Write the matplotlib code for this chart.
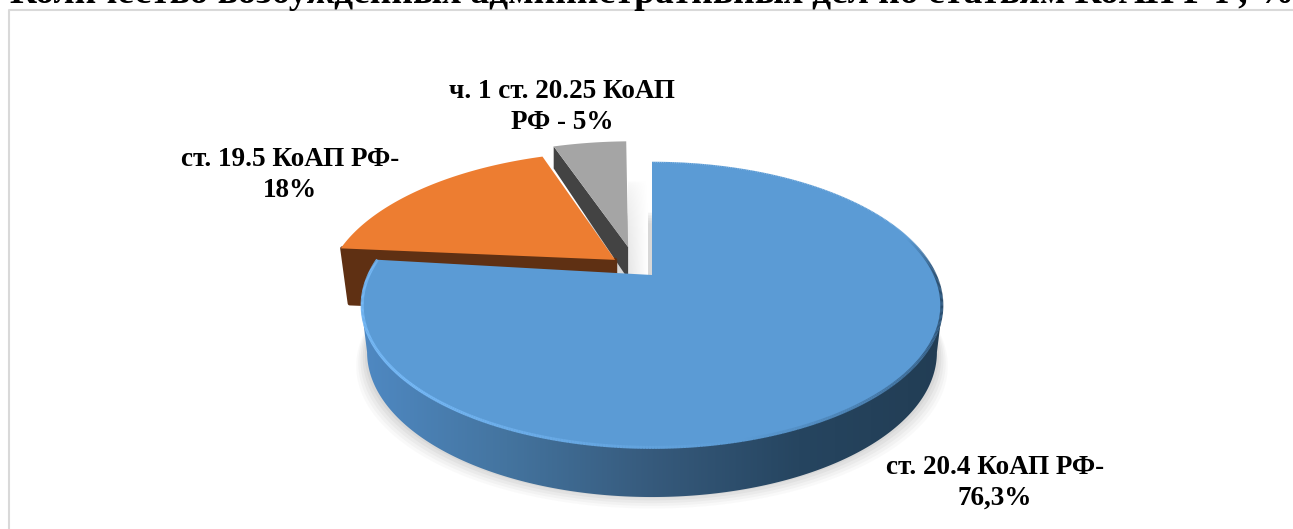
import numpy as np
import matplotlib
matplotlib.use("Agg")
import matplotlib.pyplot as plt
from matplotlib.patches import Polygon
from matplotlib.collections import LineCollection
from matplotlib.colors import LinearSegmentedColormap

plt.rcParams['font.family'] = ['Liberation Serif', 'DejaVu Serif']

# data
title = "Количество возбужденных административных дел по статьям КоАП РФ, %"
categories = ["ст. 20.4 КоАП РФ-\n76,3%", "ст. 19.5 КоАП РФ-\n18%", "ч. 1 ст. 20.25 КоАП\nРФ - 5%"]
values = [76.3, 18.0, 5.0]

# styling / projection
CX, CY, R, H, K = 652, 275, 284, 136, 0.214
top_cols = ["#5b9bd5", "#ed7d31", "#a5a5a5"]
side_cols = [None, "#5f3013", "#434343"]
explode = [(0, 0), (-0.133, 0.114), (-0.088, 0.215)]
radius = [1.0, 1.015, 1.03]
# small angular corrections (degrees) for the perspective of the exploded slices
rotate = [0, 1.5, 1.5]
label_xy = [(995, 483), (290, 175), (562, 107)]


def proj(u, v, depth=0.0, scale=1.0):
    s = 1 / (1 + K * v)
    return CX + R * scale * u * s, CY - H * v * s + depth


def arc(a0, a1, off=(0, 0), rad=1.0, n=200):
    t = np.radians(np.linspace(a0, a1, n))
    return off[0] + rad * np.cos(t), off[1] + rad * np.sin(t)


def xy(x, y):
    return np.column_stack([x, y])


fig = plt.figure(figsize=(12.93, 5.29), dpi=100)
ax = fig.add_axes([0, 0, 1, 1])
ax.set_xlim(0, 1293)
ax.set_ylim(529, 0)
ax.axis("off")

# frame
ax.plot([1293, 8.5, 8.5], [9.5, 9.5, 529], color="#d9d9d9", lw=1.5, zorder=1)

# title, clipped by the top edge
ax.text(10, 3, title, fontsize=27, fontweight="bold", ha="left", va="baseline", zorder=9,
        clip_on=True)

# slice angles, clockwise from 12 o'clock
fracs = np.array(values) / sum(values) * 360
ends = 90 - np.cumsum(fracs)
starts = ends + fracs
blue_a0, blue_a1 = ends[0], starts[0]
org_a0, org_a1 = ends[1] + rotate[1], starts[1] + rotate[1]
gry_a0, gry_a1 = ends[2] + rotate[2], starts[2] + rotate[2]

# soft shadows below the blue slice
u, v = arc(0, 360, n=400)
for grow, alpha in zip([15, 12, 9, 6, 3], [0.035, 0.05, 0.06, 0.07, 0.08]):
    x, y = proj(u, v, 47 + grow * 0.9, 0.98 + grow / 400)
    ax.fill(x, y, color="#707070", alpha=alpha, lw=0, zorder=2)

# pale shadow next to the grey slice (fades to the right and upwards)
gx = np.linspace(0.90, 1.0, 64)
gy = np.linspace(1.0, 0.0, 48)[:, None] ** 0.35
shade = 1 - (1 - gx[None, :]) * gy[::-1]
ax.imshow(shade, extent=(628, 648, 275, 180), cmap="gray", vmin=0, vmax=1, aspect="auto",
          zorder=2, interpolation="bilinear")

# grey slice
off = explode[2]
rad = radius[2]
u, v = arc(gry_a0, gry_a1, off, rad)
xo, yo = proj(np.r_[off[0], u], np.r_[off[1], v])
l_out = proj(off[0] + rad * np.cos(np.radians(gry_a1)), off[1] + rad * np.sin(np.radians(gry_a1)))
l_in = proj(off[0], off[1])
ax.add_patch(Polygon([l_out, l_in, (l_in[0], l_in[1] + 32), (l_out[0], l_out[1] + 22)],
                     fc=side_cols[2], ec="none", zorder=3))
ax.add_patch(Polygon(xy(xo, yo), fc=top_cols[2], ec="none", zorder=4))

# orange slice
off = explode[1]
rad = radius[1]
u, v = arc(org_a0, org_a1, off, rad)
xo, yo = proj(np.r_[off[0], u], np.r_[off[1], v])
c_out = proj(off[0] + rad * np.cos(np.radians(org_a1)), off[1] + rad * np.sin(np.radians(org_a1)))
c_in = proj(off[0], off[1])
ax.add_patch(Polygon([(c_out[0] + 1.5, c_out[1]), c_in, (c_in[0], c_in[1] + 54),
                      (c_out[0] + 9, c_out[1] + 55)],
                     fc=side_cols[1], ec=side_cols[1], lw=3, joinstyle="round", zorder=5))
ax.add_patch(Polygon(xy(xo, yo), fc=top_cols[1], ec="none", zorder=6))

# blue slice: side wall with horizontal gradient
a_l = 180 + np.degrees(np.arcsin(K))
a_r = 360 - np.degrees(np.arcsin(K))
u, v = arc(a_l, a_r)
xt, yt = proj(u, v)
xb, yb = proj(u, v, 46 - 3 * v, 0.98)
side = Polygon(np.r_[xy(xt, yt), xy(xb, yb)[::-1]], fc="none", ec="none", transform=ax.transData)
ax.add_patch(side)
cm = LinearSegmentedColormap.from_list("side", [(0, "#4f89c3"), (0.25, "#44749f"), (0.5, "#365a7c"),
                                                (0.75, "#264560"), (1, "#223d54")])
img = ax.imshow(np.linspace(0, 1, 256).reshape(1, -1), extent=(360, 945, 505, 280), cmap=cm,
                aspect="auto", zorder=7)
img.set_clip_path(side)

# blue top face
u, v = arc(blue_a0, blue_a1, n=600)
xo, yo = proj(np.r_[0, u], np.r_[0, v])
ax.add_patch(Polygon(xy(xo, yo), fc=top_cols[0], ec="none", zorder=8))

# bevel along the rim
th = np.linspace(blue_a1, blue_a0, 600)
u, v = np.cos(np.radians(th)), np.sin(np.radians(th))
x, y = proj(u * 0.997, v * 0.997)
pts = xy(x, y)
segs = np.stack([pts[:-1], pts[1:]], axis=1)
angs = np.mod(th[:-1], 360)
base = np.array([0.357, 0.608, 0.835])
light = np.array([0.46, 0.72, 0.96])
dark = np.array([0.17, 0.31, 0.44])
cols = []
for a in angs:
    if 170 <= a <= 285:
        w = np.clip((285 - a) / 60, 0, 1) * np.clip((a - 170) / 6, 0, 1)
        c = base * (1 - w) + light * w
    elif a > 285 or a <= 30:
        d = (a - 285) if a > 285 else (a + 75)
        w = np.clip(d / 60, 0, 1) * np.clip((92 - d) / 17, 0, 1)
        c = base * (1 - w) + dark * w
    else:
        c = base
    cols.append(c)
ax.add_collection(LineCollection(segs, colors=cols, linewidths=2.2, zorder=8.5, capstyle="butt"))

# labels
for lab, (lx, ly) in zip(categories, label_xy):
    ax.text(lx, ly, lab, fontsize=19.5, fontweight="bold", ha="center", va="center",
            linespacing=1.3, zorder=10)

fig.savefig("out.png", dpi=100)
